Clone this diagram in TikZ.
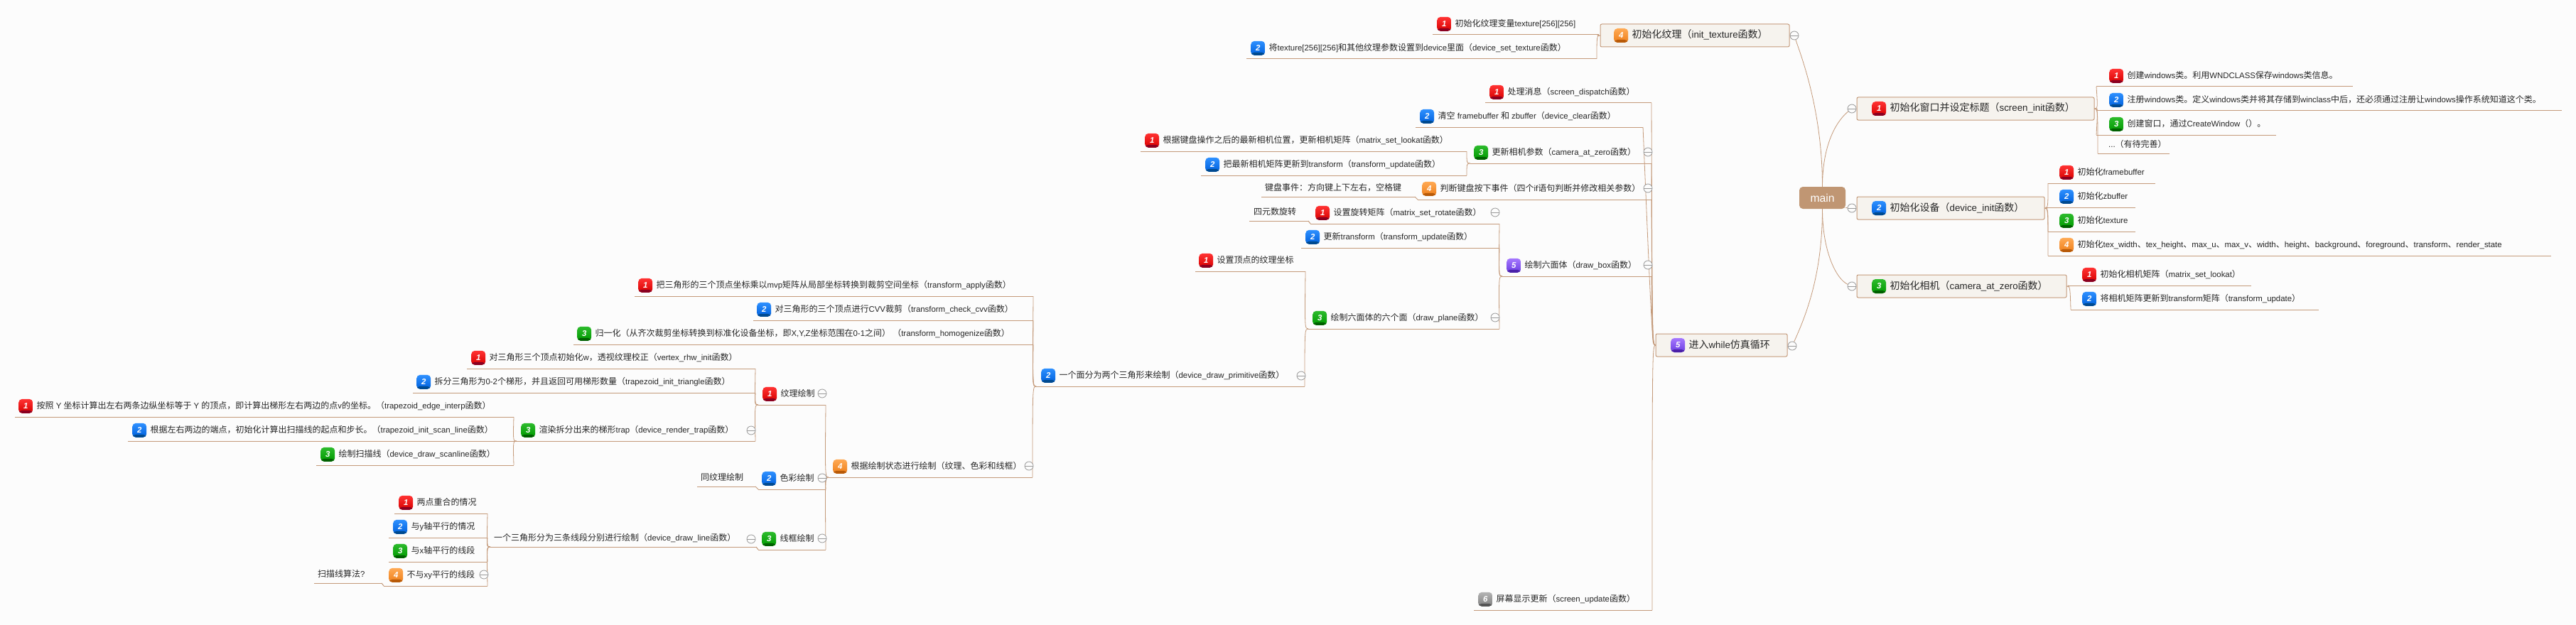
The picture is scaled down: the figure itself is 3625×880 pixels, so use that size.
\documentclass[tikz,border=0pt]{standalone}
\usepackage{fontspec}
\usepackage{xcolor}
\usetikzlibrary{positioning, calc, backgrounds}
\setmainfont{Liberation Sans}[Scale=0.95]
\newfontfamily\cjk{Noto Sans CJK SC}

\XeTeXinterchartokenstate=1
\newXeTeXintercharclass\cjkclass
\newcount\cjkchar
\cjkchar="4E00
\loop
  \XeTeXcharclass\cjkchar=\cjkclass
  \advance\cjkchar 1
\ifnum\cjkchar<"A000 \repeat
\XeTeXcharclass"3001=\cjkclass
\XeTeXcharclass"3002=\cjkclass
\XeTeXcharclass"FF08=\cjkclass
\XeTeXcharclass"FF09=\cjkclass
\XeTeXcharclass"FF0C=\cjkclass
\XeTeXcharclass"FF1A=\cjkclass
\XeTeXinterchartoks 0 \cjkclass={\begingroup\cjk}
\XeTeXinterchartoks 4095 \cjkclass={\begingroup\cjk}
\XeTeXinterchartoks \cjkclass 0={\endgroup}
\XeTeXinterchartoks \cjkclass 4095={\endgroup}

\definecolor{pagebg}{HTML}{FCFCFC}
\definecolor{stem}{HTML}{C49A7A}
\definecolor{rootfill}{HTML}{C09673}
\definecolor{topicfill}{HTML}{F6F3EE}

\tikzset{
  stemline/.style={draw=stem, line width=1pt},
  linkline/.style={draw=stem, line width=0.8pt},
  leafbox/.style={anchor=south west, inner sep=0pt, outer sep=0pt, minimum height=26pt},
  leaftext/.style={inner sep=0pt, text height=9pt, text depth=2.5pt, text=black!85,
    font=\fontsize{12}{14}\selectfont},
  topictext/.style={inner sep=0pt, text height=11pt, text depth=3pt, text=black!85,
    font=\fontsize{14}{16}\selectfont},
  topicbox/.style={anchor=north west, inner sep=0pt, outer sep=0pt, minimum height=32pt,
    rounded corners=2pt, draw=stem, fill=topicfill, line width=1pt},
  rootbox/.style={rounded corners=5pt, fill=rootfill, text=white, inner sep=0pt,
    minimum width=65pt, minimum height=31pt, font=\fontsize{16.5}{18}\selectfont},
  foldmark/.style={circle, draw=gray!80, fill=pagebg, minimum size=12pt, inner sep=0pt,
    line width=0.8pt, path picture={\draw[gray!80, line width=0.8pt]
      (path picture bounding box.west) -- (path picture bounding box.east);}},
  badge/.style n args={3}{rounded corners=5pt, minimum size=20pt, inner sep=0pt,
    text=white, font=\bfseries\itshape\fontsize{12}{12}\selectfont,
    top color=#1, bottom color=#2, path picture={\fill[#3]
      (path picture bounding box.south west) rectangle
      ([yshift=4pt]path picture bounding box.south east);}},
  badge1/.style={badge={red1}{red2}{red3}},
  badge2/.style={badge={blue1}{blue2}{blue3}},
  badge3/.style={badge={green1}{green2}{green3}},
  badge4/.style={badge={orange1}{orange2}{orange3}},
  badge5/.style={badge={purple1}{purple2}{purple3}},
  badge6/.style={badge={gray1}{gray2}{gray3}}
}
\definecolor{red1}{HTML}{FF3333}\definecolor{red2}{HTML}{D80000}\definecolor{red3}{HTML}{8A0020}
\definecolor{blue1}{HTML}{2E90FF}\definecolor{blue2}{HTML}{0060DC}\definecolor{blue3}{HTML}{004A90}
\definecolor{green1}{HTML}{2DBB2D}\definecolor{green2}{HTML}{009A00}\definecolor{green3}{HTML}{006000}
\definecolor{orange1}{HTML}{FFAA55}\definecolor{orange2}{HTML}{EE7F1A}\definecolor{orange3}{HTML}{B85A08}
\definecolor{purple1}{HTML}{A678FF}\definecolor{purple2}{HTML}{6A3DE0}\definecolor{purple3}{HTML}{4A20A8}
\definecolor{gray1}{HTML}{B4B4B4}\definecolor{gray2}{HTML}{808080}\definecolor{gray3}{HTML}{555555}

\newcommand{\leaf}[7][6]{%
  \node[leafbox, minimum width={(#4-#3)*1pt}] (#2) at (#3,#5) {};
  \draw[stemline] (#2.south west) -- (#2.south east);
  \node[badge#6, anchor=south west] (#2b) at ([xshift=#1pt,yshift=5pt]#2.south west) {#6};
  \node[leaftext, right=5pt of #2b] (#2t) {#7};
}
\newcommand{\noteleaf}[5][6]{%
  \node[leafbox, minimum width={(#4-#3)*1pt}] (#2) at (#3,#5) {};
  \draw[stemline] (#2.south west) -- (#2.south east);
}
\newcommand{\notetext}[3][6]{%
  \node[leaftext, anchor=west] (#2t) at ([xshift=#1pt,yshift=12pt]#2.south west) {#3};
}
\newcommand{\topic}[7][21]{%
  \node[topicbox, minimum width={(#4-#3)*1pt}] (#2) at (#3,#5) {};
  \node[badge#6, anchor=west] (#2b) at ([xshift=#1pt]#2.west) {#6};
  \node[topictext, right=5pt of #2b] (#2t) {#7};
}
\newcommand{\linkl}[2]{\draw[linkline] (#1) .. controls +(-5,0) .. (#2);}
\newcommand{\linkr}[2]{\draw[linkline] (#1) .. controls +(5,0) .. (#2);}

\begin{document}
\begin{tikzpicture}[x=1pt, y=-1pt]
        \useasboundingbox (0,0) rectangle (3625,880);

        \node[rootbox] (main) at (2564.5,278.5) {main};

        \topic{screeninit}{2613}{2947}{137}{1}{初始化窗口并设定标题（screen\_init函数）}
        \topic{deviceinit}{2613}{2877}{277}{2}{初始化设备（device\_init函数）}
        \topic{camerainit}{2613}{2908}{387}{3}{初始化相机（camera\_at\_zero函数）}
        \topic[19]{textureinit}{2252}{2518}{34}{4}{初始化纹理（init\_texture函数）}
        \topic{whileloop}{2330}{2515}{470}{5}{进入while仿真循环}

        \leaf[18]{createclass}{2950}{3311}{122}{1}{创建windows类。利用WNDCLASS保存windows类信息。}
        \leaf[18]{regclass}{2950}{3605}{156}{2}{注册windows类。定义windows类并将其存储到winclass中后，还必须通过注册让windows操作系统知道这个类。}
        \leaf[18]{createwin}{2950}{3203}{190}{3}{创建窗口，通过CreateWindow（）。}
        \noteleaf{todo}{2952}{3053}{216}
        \notetext[15]{todo}{...（有待完善）}

        \leaf[16]{initframe}{2882}{3033}{258}{1}{初始化framebuffer}
        \leaf[19]{initz}{2879}{3005}{292}{2}{初始化zbuffer}
        \leaf[16]{inittex}{2882}{3005}{326}{3}{初始化texture}
        \leaf[16]{initparam}{2882}{3590}{360}{4}{初始化tex\_width、tex\_height、max\_u、max\_v、width、height、background、foreground、transform、render\_state}

        \leaf[20]{initlookat}{2910}{3168}{402}{1}{初始化相机矩阵（matrix\_set\_lookat）}
        \leaf[16]{initupdate}{2914}{3263}{436}{2}{将相机矩阵更新到transform矩阵（transform\_update）}

        \leaf{texvar}{2016}{2250}{49}{1}{初始化纹理变量texture[256][256]}
        \leaf{texset}{1754}{2247}{83}{2}{将texture[256][256]和其他纹理参数设置到device里面（device\_set\_texture函数）}

        \leaf[6]{dispatch}{2090}{2324}{145}{1}{处理消息（screen\_dispatch函数）}
        \leaf{clearbuf}{1992}{2312}{179}{2}{清空 framebuffer 和 zbuffer（device\_clear函数）}
        \leaf[5]{updatecam}{2069}{2324}{230}{3}{更新相机参数（camera\_at\_zero函数）}
        \leaf{lookat}{1605}{2064}{213}{1}{根据键盘操作之后的最新相机位置，更新相机矩阵（matrix\_set\_lookat函数）}
        \leaf{camtrans}{1690}{2064}{247}{2}{把最新相机矩阵更新到transform（transform\_update函数）}
        \leaf{keypress}{1995}{2324}{281}{4}{判断键盘按下事件（四个if语句判断并修改相关参数）}
        \noteleaf{keynote}{1775}{1991}{277}
        \notetext[5]{keynote}{键盘事件：方向键上下左右，空格键}

        \leaf{drawbox}{2114}{2324}{389}{5}{绘制六面体（draw\_box函数）}
        \leaf[7]{setrot}{1844}{2110}{315}{1}{设置旋转矩阵（matrix\_set\_rotate函数）}
        \noteleaf{quatnote}{1758}{1841}{311}
        \notetext{quatnote}{四元数旋转}
        \leaf{boxtrans}{1831}{2110}{349}{2}{更新transform（transform\_update函数）}
        \leaf{drawplane}{1841}{2110}{463}{3}{绘制六面体的六个面（draw\_plane函数）}
        \leaf[5]{setuv}{1682}{1837}{382}{1}{设置顶点的纹理坐标}
        \leaf[7]{primitive}{1458}{1836}{544}{2}{一个面分为两个三角形来绘制（device\_draw\_primitive函数）}

        \leaf[5]{applymvp}{893}{1454}{417}{1}{把三角形的三个顶点坐标乘以mvp矩阵从局部坐标转换到裁剪空间坐标（transform\_apply函数）}
        \leaf[5]{checkcvv}{1060}{1454}{451}{2}{对三角形的三个顶点进行CVV裁剪（transform\_check\_cvv函数）}
        \leaf[5]{homogen}{807}{1454}{485}{3}{归一化（从齐次裁剪坐标转换到标准化设备坐标，即X,Y,Z坐标范围在0-1之间） （transform\_homogenize函数）}
        \leaf{bystate}{1166}{1453}{672}{4}{根据绘制状态进行绘制（纹理、色彩和线框）}

        \leaf{texdraw}{1067}{1162}{570}{1}{纹理绘制}
        \leaf{rhwinit}{657}{1063}{519}{1}{对三角形三个顶点初始化w，透视纹理校正（vertex\_rhw\_init函数）}
        \leaf[5]{traptri}{581}{1063}{553}{2}{拆分三角形为0-2个梯形，并且返回可用梯形数量（trapezoid\_init\_triangle函数）}
        \leaf{rendertrap}{727}{1063}{621}{3}{渲染拆分出来的梯形trap（device\_render\_trap函数）}
        \leaf[5]{edgeinterp}{21}{723}{587}{1}{按照 Y 坐标计算出左右两条边纵坐标等于 Y 的顶点，即计算出梯形左右两边的点v的坐标。（trapezoid\_edge\_interp函数）}
        \leaf{scanline}{180}{725}{621}{2}{根据左右两边的端点，初始化计算出扫描线的起点和步长。（trapezoid\_init\_scan\_line函数）}
        \leaf{drawscan}{445}{723}{655}{3}{绘制扫描线（device\_draw\_scanline函数）}

        \leaf[5]{colordraw}{1067}{1162}{689}{2}{色彩绘制}
        \noteleaf{colornote}{981}{1063}{685}
        \notetext[5]{colornote}{同纹理绘制}

        \leaf[5]{linedraw}{1067}{1162}{774}{3}{线框绘制}
        \noteleaf{splitline}{690}{1064}{770}
        \notetext[5]{splitline}{一个三角形分为三条线段分别进行绘制（device\_draw\_line函数）}
        \leaf{samepoint}{555}{686}{723}{1}{两点重合的情况}
        \leaf{yparallel}{547}{686}{757}{2}{与y轴平行的情况}
        \leaf{xparallel}{547}{686}{791}{3}{与x轴平行的线段}
        \leaf[7]{noparallel}{540}{686}{825}{4}{不与xy平行的线段}
        \noteleaf{scannote}{442}{537}{821}
        \notetext[5]{scannote}{扫描线算法?}

        \leaf{scrupdate}{2074}{2325}{859}{6}{屏幕显示更新（screen\_update函数）}

        \node[foldmark] (foldinit) at (2606,153) {};
        \node[foldmark] (folddev) at (2606,293) {};
        \node[foldmark] (foldcam) at (2606,403) {};
        \node[foldmark] (foldtex) at (2525,50) {};
        \node[foldmark] (foldloop) at (2522,487) {};
        \node[foldmark] at (2319,214) {};
        \node[foldmark] at (2319,265) {};
        \node[foldmark] at (2319,373) {};
        \node[foldmark] at (2104,299) {};
        \node[foldmark] at (2104,447) {};
        \node[foldmark] at (1831,529) {};
        \node[foldmark] at (1448,656) {};
        \node[foldmark] at (1157,554) {};
        \node[foldmark] at (1157,673) {};
        \node[foldmark] at (1157,758) {};
        \node[foldmark] at (1057,606) {};
        \node[foldmark] at (1057,759) {};
        \node[foldmark] at (681,809) {};

        \begin{scope}[on background layer]
          \fill[pagebg] (0,0) rectangle (3625,880);
          \draw[linkline] (main.north) .. controls +(0,-110) and +(8,25) .. (foldtex);
          \draw[linkline] (main.north) .. controls +(0,-65) and +(-18,14) .. (foldinit);
          \draw[linkline] (main.east) ++(0,14) -- (folddev);
          \draw[linkline] (main.south) .. controls +(0,60) and +(-22,-10) .. (foldcam);
          \draw[linkline] (main.south) .. controls +(0,95) and +(18,-40) .. (foldloop);

          \foreach \kid in {createclass, regclass, createwin, todo}
            {\linkr{screeninit.east}{\kid.south west}}
          \foreach \kid in {initframe, initz, inittex, initparam}
            {\linkr{deviceinit.east}{\kid.south west}}
          \foreach \kid in {initlookat, initupdate}
            {\linkr{camerainit.east}{\kid.south west}}
          \foreach \kid in {texvar, texset}
            {\linkl{textureinit.west}{\kid.south east}}
          \foreach \kid in {dispatch, clearbuf, updatecam, keypress, drawbox, scrupdate}
            {\linkl{whileloop.west}{\kid.south east}}
          \foreach \kid in {lookat, camtrans}
            {\linkl{updatecam.south west}{\kid.south east}}
          \foreach \kid in {setrot, boxtrans, drawplane}
            {\linkl{drawbox.south west}{\kid.south east}}
          \foreach \kid in {setuv, primitive}
            {\linkl{drawplane.south west}{\kid.south east}}
          \foreach \kid in {applymvp, checkcvv, homogen, bystate}
            {\linkl{primitive.south west}{\kid.south east}}
          \foreach \kid in {texdraw, colordraw, linedraw}
            {\linkl{bystate.south west}{\kid.south east}}
          \foreach \kid in {rhwinit, traptri, rendertrap}
            {\linkl{texdraw.south west}{\kid.south east}}
          \foreach \kid in {edgeinterp, scanline, drawscan}
            {\linkl{rendertrap.south west}{\kid.south east}}
          \foreach \kid in {samepoint, yparallel, xparallel, noparallel}
            {\linkl{splitline.south west}{\kid.south east}}
          \draw[stemline] (keypress.south west) -- (keynote.south east);
          \draw[stemline] (setrot.south west) -- (quatnote.south east);
          \draw[stemline] (colordraw.south west) -- (colornote.south east);
          \draw[stemline] (linedraw.south west) -- (splitline.south east);
          \draw[stemline] (noparallel.south west) -- (scannote.south east);
        \end{scope}
\end{tikzpicture}
\end{document}
